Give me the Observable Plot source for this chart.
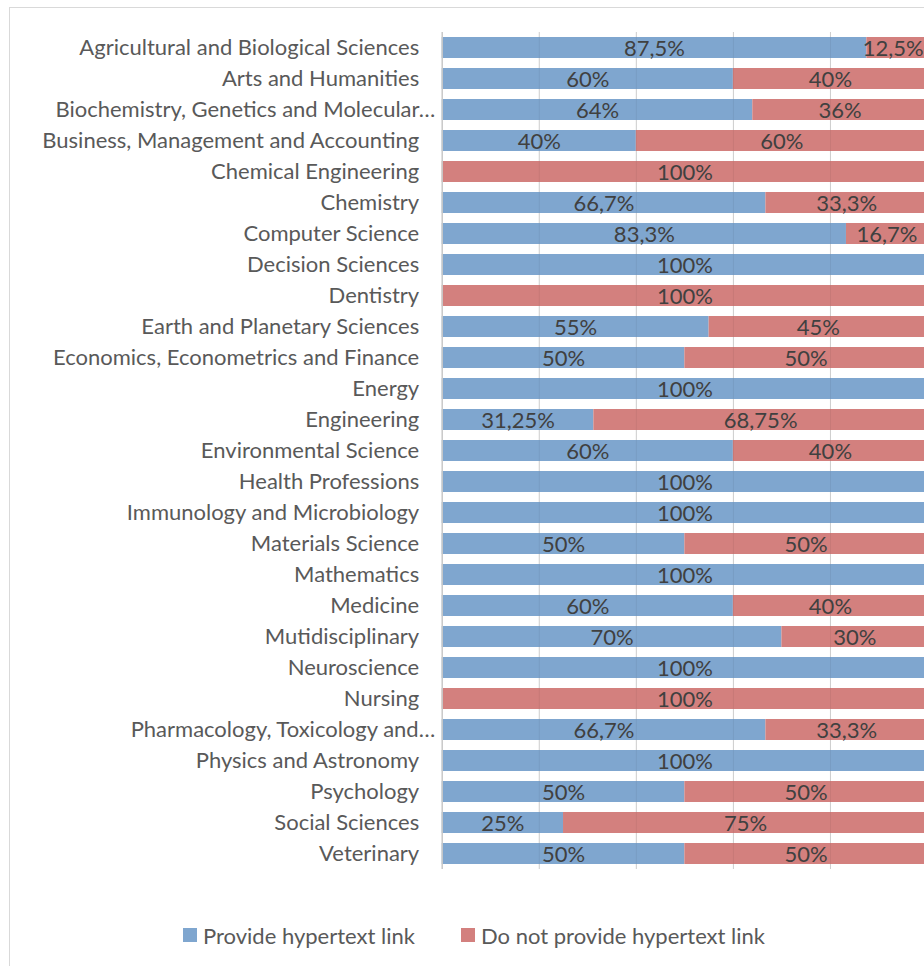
<!DOCTYPE html>
<html>
<head>
<meta charset="utf-8">
<script src="https://cdn.jsdelivr.net/npm/d3@7"></script>
<script src="https://cdn.jsdelivr.net/npm/@observablehq/plot@0.6"></script>
<style>
  html, body { margin: 0; padding: 0; background: #fff; overflow: hidden; }
  body { width: 924px; height: 966px; position: relative; font-family: Lato, "Open Sans", sans-serif; }
  #frame { position: absolute; left: 9px; top: 7px; width: 1000px; height: 1000px; border: 1px solid #d9d9d9; box-sizing: border-box; }
  #chart { position: absolute; left: 0; top: 0; }
  #legend { position: absolute; top: 922px; left: 0; width: 924px; height: 26px; font-size: 22px; color: #595959; }
  .item { position: absolute; top: 0; display: flex; align-items: center; height: 26px; white-space: nowrap; }
  .sw { width: 14px; height: 14px; margin-right: 6px; }
</style>
</head>
<body>
<div id="frame"></div>
<div id="chart"></div>
<div id="legend"></div>
<script>
const categories = [
  "Agricultural and Biological Sciences",
  "Arts and Humanities",
  "Biochemistry, Genetics and Molecular Biology",
  "Business, Management and Accounting",
  "Chemical Engineering",
  "Chemistry",
  "Computer Science",
  "Decision Sciences",
  "Dentistry",
  "Earth and Planetary Sciences",
  "Economics, Econometrics and Finance",
  "Energy",
  "Engineering",
  "Environmental Science",
  "Health Professions",
  "Immunology and Microbiology",
  "Materials Science",
  "Mathematics",
  "Medicine",
  "Mutidisciplinary",
  "Neuroscience",
  "Nursing",
  "Pharmacology, Toxicology and Pharmaceutics",
  "Physics and Astronomy",
  "Psychology",
  "Social Sciences",
  "Veterinary"
];
const displayLabels = {
  "Biochemistry, Genetics and Molecular Biology": "Biochemistry, Genetics and Molecular…",
  "Pharmacology, Toxicology and Pharmaceutics": "Pharmacology, Toxicology and…"
};
const provide =    [87.5, 60, 64, 40, 0, 66.7, 83.3, 100, 0, 55, 50, 100, 31.25, 60, 100, 100, 50, 100, 60, 70, 100, 0, 66.7, 100, 50, 25, 50];
const notProvide = [12.5, 40, 36, 60, 100, 33.3, 16.7, 0, 100, 45, 50, 0, 68.75, 40, 0, 0, 50, 0, 40, 30, 0, 100, 33.3, 0, 50, 75, 50];
const seriesNames = ["Provide hypertext link", "Do not provide hypertext link"];
const seriesColors = ["#7fa6cf", "#d3807e"];
const gridTicks = [20, 40, 60, 80, 100];

const rows = [];
categories.forEach((c, i) => {
  rows.push({category: c, series: seriesNames[0], value: provide[i]});
  rows.push({category: c, series: seriesNames[1], value: notProvide[i]});
});
const fmt = v => String(v).replace(".", ",") + "%";
// labels of narrow end segments are nudged left to stay inside the plot (as Excel does)
const isTight = d => d.series === seriesNames[1] && d.value > 0 && d.value < 15;

const normal = categories.filter(c => !displayLabels[c]);
const truncated = categories.filter(c => displayLabels[c]);
const H = 890;
const FS = 22;

const labelBase = {x: "value", y: "category", z: "series", order: seriesNames, fill: "#404040", fontSize: FS, dy: 1};

const plot = Plot.plot({
  width: 924,
  height: H,
  marginTop: 32,
  marginBottom: H - 869,
  marginLeft: 441.7,
  marginRight: 0,
  style: {fontFamily: "Lato, 'Open Sans', sans-serif", fontSize: FS + "px", background: "transparent", overflow: "visible"},
  x: {domain: [0, 100], range: [441.7, 927], axis: null},
  y: {domain: categories, paddingInner: 0.32, paddingOuter: 0.16, axis: null},
  color: {domain: seriesNames, range: seriesColors},
  marks: [
    Plot.ruleX(gridTicks, {x: d => d, stroke: "#d9d9d9", strokeWidth: 1}),
    Plot.barX(rows, Plot.stackX({x: "value", y: "category", fill: "series", order: seriesNames})),
    Plot.ruleX(gridTicks, {x: d => d, stroke: "#000", strokeOpacity: 0.06, strokeWidth: 1}),
    Plot.textX(rows, Plot.stackX({...labelBase, text: d => (d.value > 0 && !isTight(d) ? fmt(d.value) : "")})),
    Plot.textX(rows, Plot.stackX({...labelBase, text: d => (isTight(d) ? fmt(d.value) : ""), dx: -4})),
    Plot.ruleX([0], {stroke: "#c8c8c8", strokeWidth: 1.5}),
    Plot.axisY(normal, {tickSize: 0, tickPadding: 23, fill: "#595959", fontSize: FS, label: null}),
    Plot.axisY(truncated, {tickSize: 0, tickPadding: 7, fill: "#595959", fontSize: FS, label: null, tickFormat: c => displayLabels[c]})
  ]
});
document.getElementById("chart").appendChild(plot);

const legend = document.getElementById("legend");
const legendX = [183, 461];
seriesNames.forEach((s, i) => {
  const item = document.createElement("div");
  item.className = "item";
  item.style.left = legendX[i] + "px";
  const sw = document.createElement("div");
  sw.className = "sw";
  sw.style.background = seriesColors[i];
  const t = document.createElement("span");
  t.textContent = s;
  item.appendChild(sw);
  item.appendChild(t);
  legend.appendChild(item);
});
</script>
</body>
</html>
